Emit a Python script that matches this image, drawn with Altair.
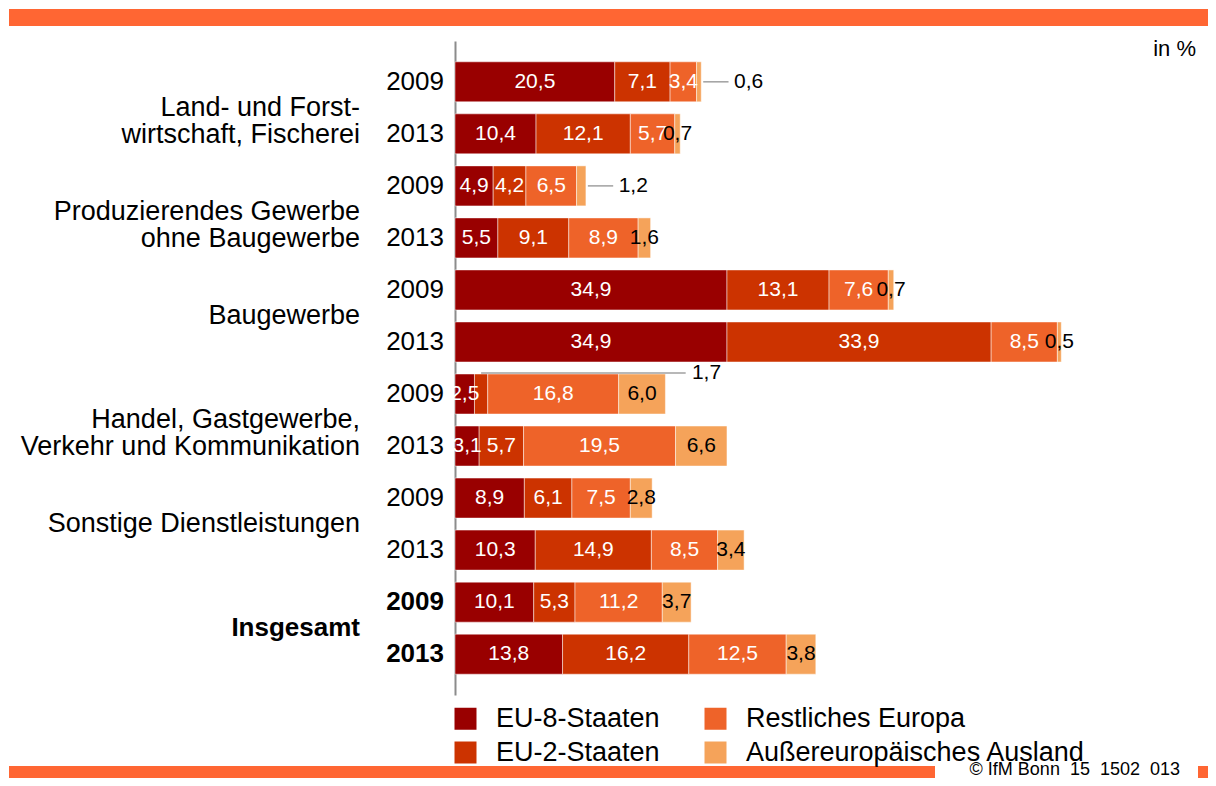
import altair as alt
import pandas as pd

# ---------------- data ----------------
categories = [
    "Land- und Forst-\nwirtschaft, Fischerei",
    "Produzierendes Gewerbe\nohne Baugewerbe",
    "Baugewerbe",
    "Handel, Gastgewerbe,\nVerkehr und Kommunikation",
    "Sonstige Dienstleistungen",
    "Insgesamt",
]
years = ["2009", "2013"]
series = ["EU-8-Staaten", "EU-2-Staaten", "Restliches Europa", "Außereuropäisches Ausland"]
colors = ["#990000", "#CC3300", "#EE6329", "#F5A35A"]

# one value per row: (cat0 2009, cat0 2013, cat1 2009, ...)
eu8 = [20.5, 10.4, 4.9, 5.5, 34.9, 34.9, 2.5, 3.1, 8.9, 10.3, 10.1, 13.8]
eu2 = [7.1, 12.1, 4.2, 9.1, 13.1, 33.9, 1.7, 5.7, 6.1, 14.9, 5.3, 16.2]
rest = [3.4, 5.7, 6.5, 8.9, 7.6, 8.5, 16.8, 19.5, 7.5, 8.5, 11.2, 12.5]
aussen = [0.6, 0.7, 1.2, 1.6, 0.7, 0.5, 6.0, 6.6, 2.8, 3.4, 3.7, 3.8]
values = [eu8, eu2, rest, aussen]

# labels drawn outside with a leader line: (row index, series index, kind)
callouts = [(0, 3, "side"), (2, 3, "side"), (6, 1, "top")]

FONT = "Liberation Sans"


def fmt(v):
    return f"{v:.1f}".replace(".", ",")


rows = []
for ci, cat in enumerate(categories):
    for yr in years:
        rows.append((ci, cat, yr, f"r{ci}-{yr}"))
row_ids = [r[3] for r in rows]

bar_recs = []
for ri, (ci, cat, yr, rid) in enumerate(rows):
    acc = 0.0
    for si, s in enumerate(series):
        v = values[si][ri]
        bar_recs.append(
            dict(row=rid, series=s, x0=acc, x1=acc + v, mid=acc + v / 2,
                 lab=fmt(v), tc="black" if si == 3 else "white",
                 callout=any(c[0] == ri and c[1] == si for c in callouts))
        )
        acc += v
bars = pd.DataFrame(bar_recs)
inside = bars[~bars["callout"]]

side_recs, top_recs = [], []
for ri, si, kind in callouts:
    rec = bars[(bars["row"] == row_ids[ri]) & (bars["series"] == series[si])].iloc[0]
    if kind == "side":
        side_recs.append(dict(row=rec["row"], l0=rec["x1"] + 0.25, l1=rec["x1"] + 3.5,
                              tx=rec["x1"] + 4.2, lab=rec["lab"]))
    else:
        top_recs.append(dict(row=rec["row"], l0=rec["mid"], l1=29.6, tx=30.4, lab=rec["lab"]))
side = pd.DataFrame(side_recs)
top = pd.DataFrame(top_recs)

year_df = pd.DataFrame([dict(row=r[3], yr=r[2], bold=(r[0] == len(categories) - 1)) for r in rows])
cat_df = pd.DataFrame([dict(row=f"r{ci}-2009", cat=c, bold=(ci == len(categories) - 1))
                       for ci, c in enumerate(categories)])

# ---------------- scales ----------------
yscale = alt.Scale(domain=row_ids, paddingInner=0.231, paddingOuter=0.4)
xscale = alt.Scale(domain=[0, 95.6], nice=False, zero=True)
Y = alt.Y("row:N", scale=yscale, axis=alt.Axis(labels=False, ticks=False, title=None,
                                                 domainColor="#8c8c8c", domainWidth=2, grid=False))

bar_layer = alt.Chart(bars).mark_bar(stroke="white", strokeWidth=0.8, strokeOpacity=0.6).encode(
    x=alt.X("x0:Q", scale=xscale, axis=None),
    x2="x1:Q",
    y=Y,
    color=alt.Color(
        "series:N",
        scale=alt.Scale(domain=series, range=colors),
        legend=alt.Legend(
            title=None, orient="none", legendX=-3, legendY=664, columns=2,
            symbolType="square", symbolSize=484, symbolStrokeWidth=0,
            labelFont=FONT, labelFontSize=27, labelColor="black", labelOffset=17,
            columnPadding=42, rowPadding=6, padding=0, labelLimit=400,
        ),
    ),
)

val_layer = alt.Chart(inside).mark_text(font=FONT, fontSize=21, align="center", baseline="middle").encode(
    x="mid:Q", y=alt.Y("row:N", scale=yscale), text="lab:N", color=alt.Color("tc:N", scale=None)
)

side_rule = alt.Chart(side).mark_rule(color="#a0a0a0", strokeWidth=1.5).encode(
    x="l0:Q", x2="l1:Q", y=alt.Y("row:N", scale=yscale)
)
side_text = alt.Chart(side).mark_text(font=FONT, fontSize=21, align="left", baseline="middle", color="black").encode(
    x="tx:Q", y=alt.Y("row:N", scale=yscale), text="lab:N"
)
top_rule = alt.Chart(top).mark_rule(color="#a0a0a0", strokeWidth=1.5, yOffset=-21).encode(
    x="l0:Q", x2="l1:Q", y=alt.Y("row:N", scale=yscale)
)
top_text = alt.Chart(top).mark_text(font=FONT, fontSize=21, align="left", baseline="middle", color="black",
                                    yOffset=-21).encode(
    x="tx:Q", y=alt.Y("row:N", scale=yscale), text="lab:N"
)

year_norm = alt.Chart(year_df).transform_filter("!datum.bold").mark_text(
    font=FONT, fontSize=26, align="right", baseline="middle", color="black").encode(
    x=alt.value(-11), y=alt.Y("row:N", scale=yscale), text="yr:N")
year_bold = alt.Chart(year_df).transform_filter("datum.bold").mark_text(
    font=FONT, fontSize=26, fontWeight="bold", align="right", baseline="middle", color="black").encode(
    x=alt.value(-11), y=alt.Y("row:N", scale=yscale), text="yr:N")

cat_norm = alt.Chart(cat_df).transform_filter("!datum.bold").mark_text(
    font=FONT, fontSize=27, align="right", baseline="middle", color="black", dy=26,
    lineBreak="\n", lineHeight=27).encode(
    x=alt.value(-95), y=alt.Y("row:N", scale=yscale), text="cat:N")
cat_bold = alt.Chart(cat_df).transform_filter("datum.bold").mark_text(
    font=FONT, fontSize=26, fontWeight="bold", align="right", baseline="middle", color="black", dy=26,
    lineBreak="\n", lineHeight=27).encode(
    x=alt.value(-95), y=alt.Y("row:N", scale=yscale), text="cat:N")

# decorative frame
ORANGE = "#FF6633"
deco_src = pd.DataFrame({"k": [0]})
top_band = alt.Chart(deco_src).mark_rect(color=ORANGE).encode(
    x=alt.value(-446), x2=alt.value(753), y=alt.value(-32), y2=alt.value(-15))
bottom_band = alt.Chart(deco_src).mark_rect(color=ORANGE).encode(
    x=alt.value(-446), x2=alt.value(480), y=alt.value(725), y2=alt.value(737))
bottom_sq = alt.Chart(deco_src).mark_rect(color=ORANGE).encode(
    x=alt.value(743), x2=alt.value(753), y=alt.value(725), y2=alt.value(737))
copyright = alt.Chart(deco_src).mark_text(font=FONT, fontSize=18, align="right", baseline="middle",
                                          color="black").encode(
    x=alt.value(725), y=alt.value(729), text=alt.value("© IfM Bonn\u00a0\u00a015\u00a0\u00a01502\u00a0\u00a0013"))
unit = alt.Chart(deco_src).mark_text(font=FONT, fontSize=22, align="right", baseline="middle",
                                     color="black").encode(
    x=alt.value(741), y=alt.value(8), text=alt.value("in %"))

chart = alt.layer(
    bar_layer, val_layer, side_rule, side_text, top_rule, top_text,
    year_norm, year_bold, cat_norm, cat_bold,
    top_band, bottom_band, bottom_sq, copyright, unit,
).properties(
    width=745, height=654,
    autosize=alt.AutoSizeParams(type="none"),
    padding={"left": 447, "top": 33, "right": 8, "bottom": 83},
).configure(font=FONT, background="white").configure_view(strokeWidth=0, stroke="transparent")

chart.save("out.html", embed_options={"renderer": "svg", "actions": False})
